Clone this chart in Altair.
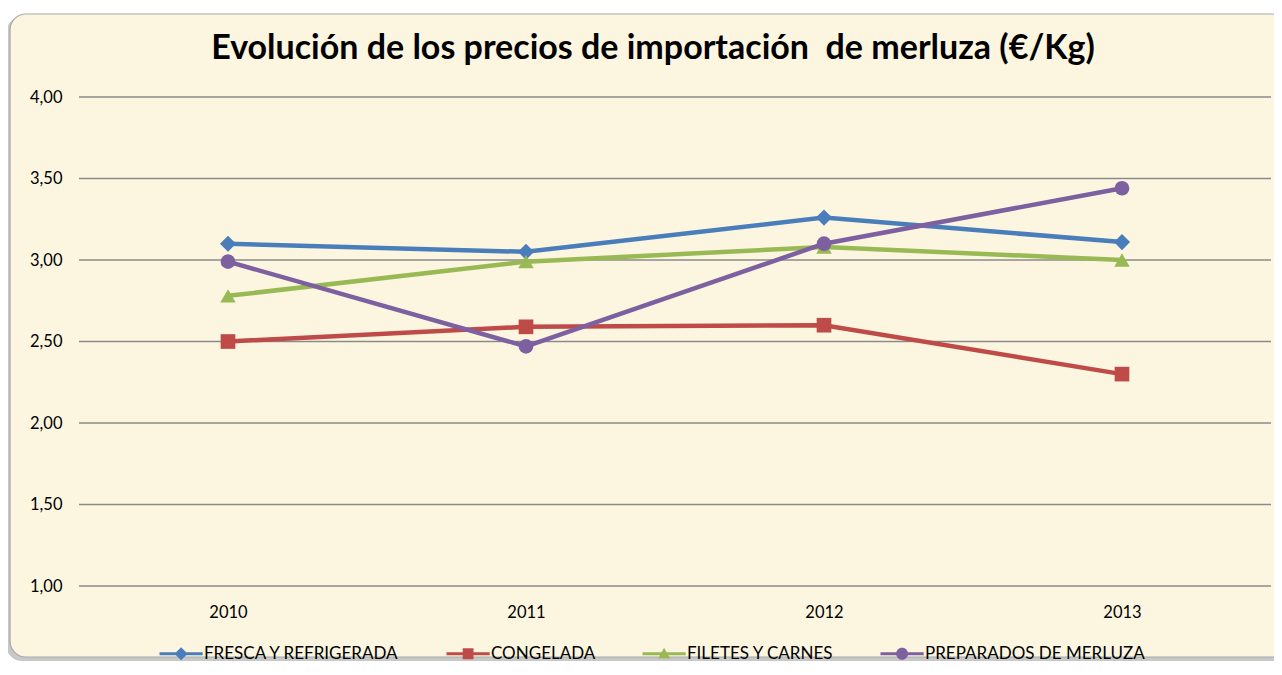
import altair as alt
import pandas as pd

# ---------------- data ----------------
years = ["2010", "2011", "2012", "2013"]
series = ["FRESCA Y REFRIGERADA", "CONGELADA", "FILETES Y CARNES", "PREPARADOS DE MERLUZA"]
fresca = [3.10, 3.05, 3.26, 3.11]
congelada = [2.50, 2.59, 2.60, 2.30]
filetes = [2.78, 2.99, 3.08, 3.00]
preparados = [2.99, 2.47, 3.10, 3.44]
y_ticks = [1.0, 1.5, 2.0, 2.5, 3.0, 3.5, 4.0]
title_text = "Evolución de los precios de importación\u00a0 de merluza (€/Kg)"

colors = ["#4A7EBB", "#BE4B48", "#98B954", "#7D60A0"]
marker_shapes = ["diamond", "square", "triangle-up", "circle"]
marker_sizes = [260, 215, 240, 215]

# legend symbols: a line with the series marker on top (unit box paths)
line_part = "M-1,-0.26H6.2V0.26H-1Z "
legend_paths = [
    line_part + "M2.6,-1.1L3.7,0L2.6,1.1L1.5,0Z",
    line_part + "M1.7,-0.9H3.5V0.9H1.7Z",
    line_part + "M2.6,-1L3.6,0.8H1.6Z",
    line_part + "M1.6,0A1,1,0,1,1,3.6,0A1,1,0,1,1,1.6,0Z",
]

rows = []
for name, vals in zip(series, [fresca, congelada, filetes, preparados]):
    for yr, v in zip(years, vals):
        rows.append({"anio": yr, "serie": name, "valor": v})
df = pd.DataFrame(rows)
grid_df = pd.DataFrame({"tick": y_ticks})
frame_df = pd.DataFrame({"k": [0]})

PW, PH = 1192, 489
PAD = {"left": 71, "top": 89, "right": 3, "bottom": 76}

FONT = "Lato"

x_enc = alt.X(
    "anio:O",
    scale=alt.Scale(type="point", padding=0.5),
    axis=alt.Axis(title=None, labelAngle=0, ticks=False, domain=False, grid=False,
                  labelFontSize=16.5, labelFont=FONT, labelColor="#000000",
                  labelPadding=18, zindex=1),
)
y_scale = alt.Scale(domain=[1, 4], nice=False, zero=False)
y_axis = alt.Axis(title=None, values=y_ticks, ticks=False, domain=False, grid=False,
                  labelExpr="replace(format(datum.value, '.2f'), '.', ',')",
                  labelFontSize=16.5, labelFont=FONT, labelColor="#000000",
                  labelPadding=17, zindex=1)
color_scale = alt.Scale(domain=series, range=colors)

# ---------------- legend carrier (invisible points, first so its legend wins) ----
leg = alt.Legend(
    title=None, orient="none", legendX=78, legendY=548, direction="horizontal",
    symbolSize=144, symbolStrokeWidth=0, symbolOpacity=1,
    labelFont=FONT, labelFontSize=17, labelColor="#000000", labelOffset=30,
    labelLimit=500, columnPadding=44,
)
legend_layer = alt.Chart(df).mark_point(filled=True, opacity=0).encode(
    x=x_enc,
    y=alt.Y("valor:Q", scale=y_scale, axis=y_axis),
    color=alt.Color("serie:N", scale=color_scale, legend=leg),
    shape=alt.Shape("serie:N", scale=alt.Scale(domain=series, range=legend_paths), legend=leg),
)

# ---------------- frame ----------------
shadow = alt.Chart(frame_df).mark_rect(cornerRadius=16, fill="#9a9a9a", opacity=0.55).encode(
    x=alt.value(-73), x2=alt.value(PW + 20), y=alt.value(-80), y2=alt.value(PH + 75)
)
frame = alt.Chart(frame_df).mark_rect(
    cornerRadius=16, fill="#FCF6E0", stroke="#a8a8a8", strokeWidth=1.2
).encode(
    x=alt.value(-69), x2=alt.value(PW + 20), y=alt.value(-83), y2=alt.value(PH + 71)
)

# ---------------- grid ----------------
grid = alt.Chart(grid_df).mark_rule(color="#8a8a8a", strokeWidth=1.4).encode(
    y=alt.Y("tick:Q", scale=y_scale, axis=y_axis)
)

# ---------------- series ----------------
lines = alt.Chart(df).mark_line(strokeWidth=4.5).encode(
    x=x_enc,
    y=alt.Y("valor:Q", scale=y_scale, axis=y_axis),
    color=alt.Color("serie:N", scale=color_scale, legend=None),
    detail="serie:N",
)

point_layers = []
for name, shp, sz in zip(series, marker_shapes, marker_sizes):
    point_layers.append(
        alt.Chart(df).transform_filter(alt.datum.serie == name)
        .mark_point(filled=True, opacity=1, shape=shp, size=sz)
        .encode(
            x=x_enc,
            y=alt.Y("valor:Q", scale=y_scale, axis=y_axis),
            color=alt.Color("serie:N", scale=color_scale, legend=None),
        )
    )

chart = alt.layer(legend_layer, shadow, frame, grid, lines, *point_layers).properties(
    width=PW,
    height=PH,
    autosize=alt.AutoSizeParams(type="none"),
    padding=PAD,
    background="white",
    title=alt.TitleParams(
        title_text, font=FONT, fontSize=34, fontWeight="bold", color="#000000",
        anchor="middle", dx=-22, offset=-53,
    ),
).configure_view(strokeWidth=0)

chart.save("out.html", embed_options={"renderer": "svg", "actions": False})
